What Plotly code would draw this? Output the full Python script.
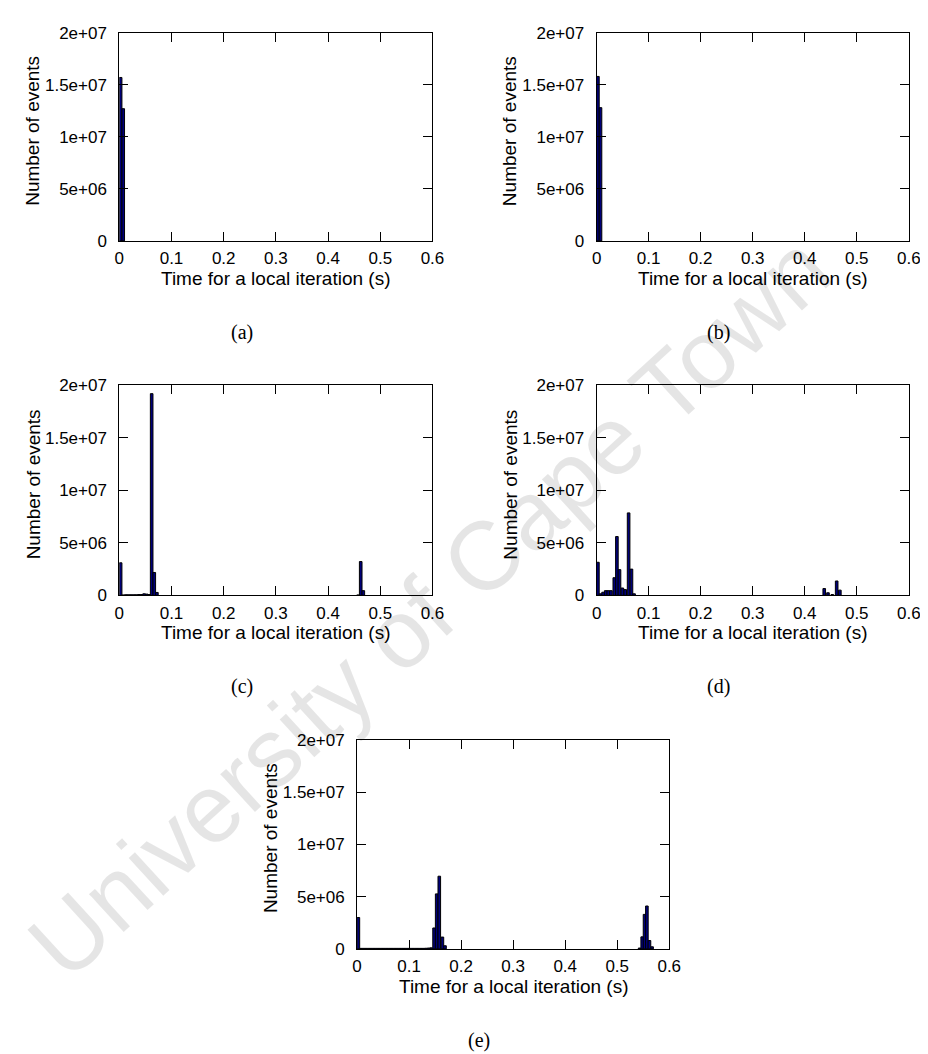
import plotly.graph_objects as go

# ---------------- data ----------------
bin_width = 0.005

a_time = [0.0025, 0.0075]
a_count = [1.57e7, 1.27e7]

b_time = [0.0025, 0.0075]
b_count = [1.58e7, 1.28e7]

c_time = [0.0025, 0.0075, 0.0125, 0.0175, 0.0225, 0.0275, 0.0325, 0.0375, 0.0425, 0.0475,
          0.0525, 0.057, 0.062, 0.067, 0.072, 0.4575, 0.4625, 0.4675]
c_count = [3.1e6, 4e4, 6e4, 6e4, 6e4, 6e4, 6e4, 8e4, 8e4, 1.5e5,
           1.2e5, 8e4, 1.92e7, 2.18e6, 2.8e5, 4e4, 3.22e6, 4.5e5]

d_time = [0.0025, 0.0075, 0.0125, 0.0175, 0.0225, 0.0275, 0.034, 0.039, 0.044, 0.0495,
          0.055, 0.0615, 0.067, 0.072, 0.4375, 0.4447, 0.453, 0.4614, 0.4675]
d_count = [3.15e6, 1.5e5, 3e5, 4.5e5, 4.5e5, 4.5e5, 1.68e6, 5.6e6, 2.45e6, 7e5,
           5.5e5, 7.85e6, 2.5e6, 1.5e5, 6.5e5, 2.5e5, 8e4, 1.37e6, 5e5]

e_time = [0.0025, 0.0075, 0.0125, 0.0175, 0.0225, 0.0275, 0.0325, 0.0375, 0.0425, 0.0475,
          0.0525, 0.0575, 0.0625, 0.0675, 0.0725, 0.0775, 0.0825, 0.0875, 0.0925, 0.0975,
          0.1025, 0.1075, 0.1125, 0.1175, 0.1225, 0.1275, 0.1325, 0.1375, 0.1425,
          0.148, 0.153, 0.158, 0.164, 0.169, 0.543, 0.548, 0.5525, 0.557, 0.562, 0.567]
e_count = [3.0e6, 5e4, 5e4, 5e4, 5e4, 5e4, 5e4, 5e4, 5e4, 5e4,
           5e4, 5e4, 5e4, 5e4, 5e4, 5e4, 5e4, 5e4, 5e4, 5e4,
           5e4, 5e4, 5e4, 5e4, 5e4, 5e4, 6e4, 8e4, 1e5,
           2.0e6, 5.26e6, 6.95e6, 1.13e6, 3e5, 8e4, 1.15e6, 3.3e6, 4.1e6, 8e5, 2e5]

x_tickvals = [0, 0.1, 0.2, 0.3, 0.4, 0.5, 0.6]
x_ticktext = ["0", "0.1", "0.2", "0.3", "0.4", "0.5", "0.6"]
y_tickvals = [0, 5e6, 1e7, 1.5e7, 2e7]
y_ticktext = ["0", "5e+06", "1e+07", "1.5e+07", "2e+07"]

x_title = "Time for a local iteration (s)"
y_title = "Number of events"
panel_labels = ["(a)", "(b)", "(c)", "(d)", "(e)"]
watermark = "University of Cape Town"

# ---------------- layout geometry (pixels) ----------------
W, H = 928, 1054
panels = [  # left, right, top, bottom
    (108.3, 427.3, 16, 228),
    (594.5, 912.5, 16, 228),
    (108.3, 427.3, 375, 589),
    (594.5, 912.5, 375, 589),
    (350.5, 668.5, 736, 949),
]
series = [(a_time, a_count), (b_time, b_count), (c_time, c_count),
          (d_time, d_count), (e_time, e_count)]

fig = go.Figure()
TICKFONT = dict(family="Liberation Sans, Arial, sans-serif", size=17, color="black")
TITLEFONT = dict(family="Liberation Sans, Arial, sans-serif", size=19, color="black")
annotations = []

for i, ((l, r, t, b), (xs, ys)) in enumerate(zip(panels, series)):
    n = "" if i == 0 else str(i + 1)
    fig.add_trace(go.Bar(
        x=xs, y=ys, width=bin_width,
        marker=dict(color="#00007a", line=dict(color="black", width=1)),
        xaxis="x" + n, yaxis="y" + n, showlegend=False,
    ))
    axcommon = dict(showline=True, linecolor="black", linewidth=1, mirror="ticks",
                    ticks="inside", ticklen=9, tickcolor="black", tickwidth=1,
                    showgrid=False, zeroline=False, tickfont=TICKFONT)
    fig.layout["xaxis" + n] = dict(axcommon, domain=[l / W, r / W], range=[0, 0.6],
                                   tickvals=x_tickvals, ticktext=x_ticktext,
                                   anchor="y" + n, ticklabelstandoff=2)
    fig.layout["yaxis" + n] = dict(axcommon, domain=[1 - b / H, 1 - t / H], range=[0, 2e7],
                                   tickvals=y_tickvals, ticktext=y_ticktext,
                                   anchor="x" + n, ticklabelstandoff=8)
    cx = (l + r) / 2
    annotations.append(dict(text=x_title, x=cx / W, y=1 - (b + 38) / H, xref="paper",
                            yref="paper", showarrow=False, xanchor="center",
                            yanchor="middle", font=TITLEFONT))
    annotations.append(dict(text=y_title, x=(l - 88) / W, y=1 - ((t + b) / 2 - 6) / H,
                            xref="paper", yref="paper", showarrow=False, textangle=-90,
                            xanchor="center", yanchor="middle", font=TITLEFONT))
    annotations.append(dict(text=panel_labels[i], x=(cx - 35) / W, y=1 - (b + 93) / H,
                            xref="paper", yref="paper", showarrow=False,
                            xanchor="center", yanchor="middle",
                            font=dict(family="Liberation Serif, serif", size=20,
                                      color="black")))

annotations.append(dict(text=watermark, x=424 / W, y=1 - 600 / H, xref="paper",
                        yref="paper", showarrow=False, textangle=-42.5,
                        xanchor="center", yanchor="middle",
                        font=dict(family="Liberation Sans, Arial, sans-serif", size=97,
                                  color="rgba(0,0,0,0.1)")))

fig.update_layout(width=W, height=H, margin=dict(l=0, r=0, t=0, b=0),
                  paper_bgcolor="white", plot_bgcolor="white",
                  annotations=annotations, barmode="overlay")

fig.write_html("out.html")
